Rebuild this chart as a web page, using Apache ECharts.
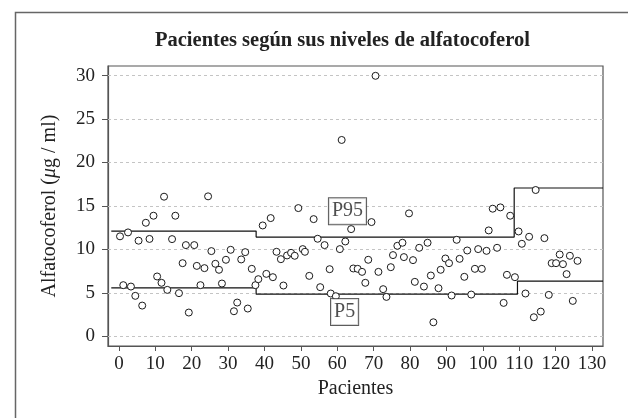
<!DOCTYPE html>
<html><head><meta charset="utf-8">
<script src="https://cdn.jsdelivr.net/npm/echarts@6/dist/echarts.min.js"></script>
<style>html,body{margin:0;padding:0;background:#fff}#c{width:628px;height:418px}</style>
</head><body><div id="c"></div>
<script>
// ---- data ----
const patientX = [0.3,1.2,2.5,3.3,4.5,5.4,6.4,7.4,8.4,9.5,10.5,11.7,12.4,13.3,14.6,15.5,16.5,17.5,18.4,19.2,
  20.7,21.4,22.4,23.5,24.5,25.4,26.5,27.5,28.3,29.4,30.7,31.6,32.5,33.6,34.7,35.4,36.5,37.5,38.3,39.5,
  40.5,41.7,42.3,43.3,44.5,45.2,46.2,47.3,48.3,49.3,50.5,51.1,52.3,53.5,54.6,55.3,56.5,57.9,58.2,59.6,
  60.7,61.2,62.2,63.8,64.4,65.6,66.8,67.7,68.5,69.4,70.5,71.3,72.6,73.5,74.7,75.3,76.5,77.9,78.3,79.7,
  80.8,81.3,82.5,83.8,84.8,85.7,86.4,87.8,88.4,89.7,90.7,91.4,92.8,93.6,94.9,95.7,96.8,97.8,98.7,99.7,
  101,101.6,102.7,103.9,104.8,105.7,106.6,107.5,108.8,109.8,110.7,111.7,112.7,114,114.5,115.9,116.9,118.1,118.9,120.1,
  121.1,122,123,123.9,124.7,126];
const alfaValues = [11.5,5.88,11.95,5.72,4.65,11.0,3.53,13.06,11.2,13.87,6.88,6.15,16.06,5.34,11.18,13.87,4.96,8.41,10.49,2.73,
  10.49,8.1,5.88,7.84,16.1,9.8,8.34,7.65,6.07,8.8,9.95,2.88,3.88,8.84,9.68,3.19,7.76,5.88,6.57,12.75,
  7.18,13.6,6.8,9.72,8.87,5.84,9.3,9.6,9.26,14.75,10.03,9.72,6.95,13.48,11.22,5.65,10.49,7.72,4.92,4.61,
  10.03,22.59,10.91,12.33,7.8,7.76,7.41,6.15,8.8,13.14,29.97,7.41,5.42,4.53,7.95,9.34,10.41,10.76,9.11,14.14,
  8.76,6.26,10.18,5.72,10.76,6.99,1.61,5.53,7.65,8.95,8.41,4.69,11.1,8.91,6.84,9.87,4.8,7.76,10.03,7.76,
  9.83,12.18,14.68,10.18,14.83,3.84,7.07,13.87,6.8,12.06,10.64,4.92,11.45,2.19,16.83,2.84,11.29,4.76,8.41,8.41,
  9.41,8.3,7.15,9.26,4.07,8.68];
const p95X = [-2.1, 37.7, 37.7, 108.6, 108.6, 133];
const p95Y = [12.1, 12.1, 11.41, 11.41, 17.06, 17.06];
const p5X  = [-2.1, 37.7, 37.7, 109.5, 109.5, 133];
const p5Y  = [5.57, 5.57, 4.84, 4.84, 6.34, 6.34];
const xTicks = [0,10,20,30,40,50,60,70,80,90,100,110,120,130];
const yTicks = [0,5,10,15,20,25,30];
const pctNames = ['P95','P5'];
const pctLabelX = [62.8, 62.0];
const pctLabelY = [14.4, 2.8];
const titleText = 'Pacientes según sus niveles de alfatocoferol';

// ---- chart ----
const FONT = 'Liberation Serif';
const INK = '#222';
const chart = echarts.init(document.getElementById('c'), null, {renderer:'canvas'});
const zip = (a,b) => a.map((v,i)=>[v,b[i]]);
chart.setOption({
  animation:false,
  backgroundColor:'#fff',
  title:{text:titleText,left:155,top:30,padding:0,
    textStyle:{fontFamily:FONT,fontWeight:'bold',fontSize:20.5,color:INK}},
  graphic:[{type:'rect',left:13,top:10,shape:{width:700,height:500},
    style:{fill:'none',stroke:'#666',lineWidth:1.5},silent:true,z:-1}],
  grid:{left:108,top:66,width:495,height:280,show:true,borderColor:'#555',borderWidth:1.2,backgroundColor:'transparent'},
  xAxis:{type:'value',min:-3,max:133,
    name:'Pacientes',nameLocation:'middle',nameGap:30,
    nameTextStyle:{fontFamily:FONT,fontSize:20,color:INK},
    axisLine:{show:true,onZero:false,lineStyle:{color:'#555',width:1.2}},
    axisTick:{show:true,length:5,customValues:xTicks,lineStyle:{color:'#555'}},
    axisLabel:{customValues:xTicks,margin:9,fontFamily:FONT,fontSize:19,color:INK},
    splitLine:{show:false}},
  yAxis:{type:'value',min:-1.12,max:31.1,
    name:'{n|Alfatocoferol (}{i|μ}{n|g / ml)}',nameLocation:'middle',nameGap:48,
    nameTextStyle:{fontFamily:FONT,fontSize:20,color:INK,
      rich:{n:{fontFamily:FONT,fontSize:20,color:INK},i:{fontFamily:FONT,fontSize:20,fontStyle:'italic',color:INK}}},
    axisLine:{show:true,onZero:false,lineStyle:{color:'#555',width:1.2}},
    axisTick:{show:true,length:6,customValues:yTicks,lineStyle:{color:'#555'}},
    axisLabel:{customValues:yTicks,margin:13,fontFamily:FONT,fontSize:19,color:INK},
    splitLine:{show:false}},
  series:[
    {type:'line',data:[],silent:true,z:1,
      markLine:{silent:true,symbol:'none',z:1,label:{show:false},
        lineStyle:{color:'#c4c4c4',type:[3,3],width:1},
        data:yTicks.map(v=>({yAxis:v}))}},
    {type:'line',data:zip(p95X,p95Y),showSymbol:false,symbol:'none',z:3,
      lineStyle:{color:'#111',width:1.2}},
    {type:'line',data:zip(p5X,p5Y),showSymbol:false,symbol:'none',z:3,
      lineStyle:{color:'#111',width:1.2}},
    {type:'scatter',data:zip(patientX,alfaValues),symbol:'circle',symbolSize:7,z:4,
      itemStyle:{color:'#fff',borderColor:'#1a1a1a',borderWidth:1,opacity:1}},
    {type:'scatter',data:pctNames.map((n,i)=>({name:n,value:[pctLabelX[i],pctLabelY[i]]})),
      symbolSize:0,z:5,
      label:{show:true,position:'inside',formatter:p=>p.name,fontFamily:FONT,fontSize:20,color:INK,
        backgroundColor:'#fff',borderColor:'#333',borderWidth:1,padding:[4,3,2,3]}}
  ]
});
</script></body></html>
